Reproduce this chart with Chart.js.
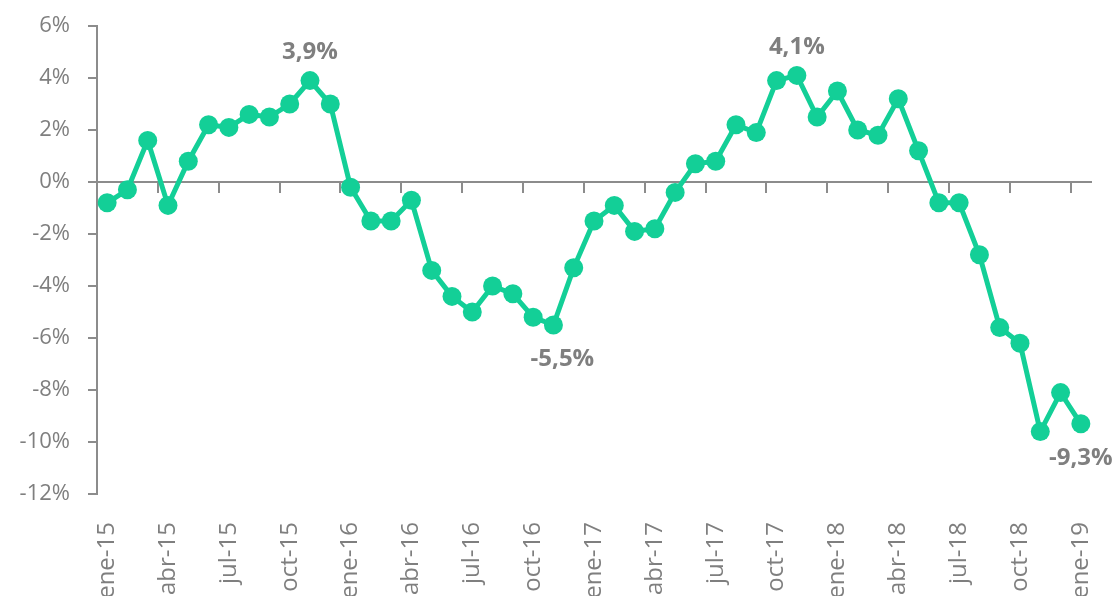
<!DOCTYPE html>
<html>
<head>
<meta charset="utf-8">
<script src="https://cdn.jsdelivr.net/npm/chart.js@4"></script>
<style>
    html, body { margin: 0; padding: 0; background: #fff; overflow: hidden; }
    canvas { display: block; }
</style>
</head>
<body>
<canvas id="chart" width="1118" height="596"></canvas>
<script>
// monthly categories, ene-15 .. ene-19
const categories = [
    'ene-15', 'feb-15', 'mar-15', 'abr-15', 'may-15', 'jun-15', 'jul-15', 'ago-15', 'sep-15', 'oct-15', 'nov-15', 'dic-15',
    'ene-16', 'feb-16', 'mar-16', 'abr-16', 'may-16', 'jun-16', 'jul-16', 'ago-16', 'sep-16', 'oct-16', 'nov-16', 'dic-16',
    'ene-17', 'feb-17', 'mar-17', 'abr-17', 'may-17', 'jun-17', 'jul-17', 'ago-17', 'sep-17', 'oct-17', 'nov-17', 'dic-17',
    'ene-18', 'feb-18', 'mar-18', 'abr-18', 'may-18', 'jun-18', 'jul-18', 'ago-18', 'sep-18', 'oct-18', 'nov-18', 'dic-18',
    'ene-19'
];

// variation in %
const values = [
    -0.8, -0.3, 1.6, -0.9, 0.8, 2.2, 2.1, 2.6, 2.5, 3.0, 3.9, 3.0,
    -0.2, -1.5, -1.5, -0.7, -3.4, -4.4, -5.0, -4.0, -4.3, -5.2, -5.5, -3.3,
    -1.5, -0.9, -1.9, -1.8, -0.4, 0.7, 0.8, 2.2, 1.9, 3.9, 4.1, 2.5,
    3.5, 2.0, 1.8, 3.2, 1.2, -0.8, -0.8, -2.8, -5.6, -6.2, -9.6, -8.1,
    -9.3
];

// points that carry a value label
const labelled = [10, 22, 34, 48];

const yTicks = { min: -12, max: 6, step: 2 };

const green = '#13cf97';
const grey = '#7f7f7f';
const axis_grey = '#8c8c8c';
const font_family = '"Open Sans", sans-serif';

function fmt(v) {
    return v.toFixed(1).replace('.', ',') + '%';
}

const valueLabels = {
    id: 'valueLabels',
    afterDatasetsDraw(chart) {
        const ctx = chart.ctx;
        const meta = chart.getDatasetMeta(0);
        ctx.save();
        ctx.font = 'bold 24px ' + font_family;
        ctx.fillStyle = grey;
        ctx.textAlign = 'center';
        ctx.textBaseline = 'middle';
        labelled.forEach(i => {
            const pt = meta.data[i];
            const v = values[i];
            let dx = 0;
            if (i === 22) dx = 9;
            const dy = v >= 0 ? -28 : 34;
            ctx.fillText(fmt(v), pt.x + dx, pt.y + dy);
        });
        ctx.restore();
    }
};

new Chart(document.getElementById('chart'), {
    type: 'line',
    data: {
        labels: categories,
        datasets: [{
            data: values,
            borderColor: green,
            backgroundColor: green,
            borderWidth: 5,
            pointRadius: 9.5,
            pointHoverRadius: 9.5,
            pointBorderWidth: 0,
            pointBackgroundColor: green,
            tension: 0,
            clip: false
        }]
    },
    options: {
        responsive: false,
        animation: false,
        devicePixelRatio: 1,
        layout: { padding: { top: 26, right: 27, left: 0, bottom: 0 } },
        plugins: {
            legend: { display: false },
            tooltip: { enabled: false }
        },
        scales: {
            x: {
                type: 'category',
                position: 'bottom',
                offset: true,
                grid: { display: false },
                border: { display: false },
                ticks: {
                    autoSkip: false,
                    minRotation: 90,
                    maxRotation: 90,
                    padding: 20,
                    color: grey,
                    font: { family: font_family, size: 24 },
                    callback: function (val, index) {
                        return index % 3 === 0 ? categories[index] : '';
                    }
                },
                afterFit: s => {
                    s.height = 102;
                    s.paddingLeft = 0;
                    s.paddingRight = 0;
                }
            },
            x0: {
                type: 'category',
                position: { y: 0 },
                offset: true,
                grid: {
                    offset: true,
                    drawOnChartArea: false,
                    drawTicks: true,
                    tickLength: 10,
                    lineWidth: 2,
                    color: c => (c.index % 3 === 0 ? axis_grey : 'rgba(0,0,0,0)')
                },
                border: { display: true, color: axis_grey, width: 2 },
                ticks: { display: false, autoSkip: false }
            },
            y: {
                min: yTicks.min,
                max: yTicks.max,
                grid: {
                    drawOnChartArea: false,
                    drawTicks: true,
                    tickLength: 9,
                    lineWidth: 2,
                    color: axis_grey
                },
                border: { display: true, color: axis_grey, width: 2 },
                ticks: {
                    stepSize: yTicks.step,
                    padding: 18,
                    color: grey,
                    font: { family: font_family, size: 22 },
                    callback: v => v + '%'
                },
                afterFit: s => {
                    s.width = 97;
                    s.paddingTop = 0;
                    s.paddingBottom = 0;
                }
            }
        }
    },
    plugins: [valueLabels]
});
</script>
</body>
</html>
